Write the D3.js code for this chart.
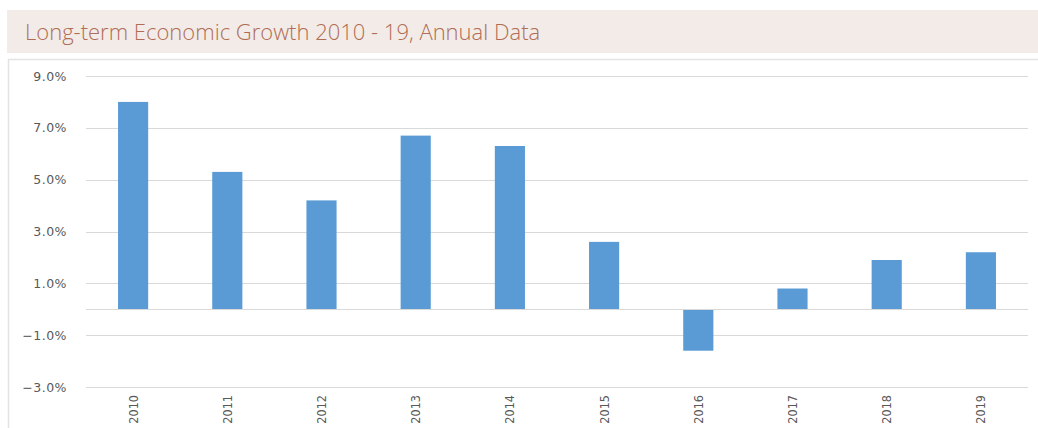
<!DOCTYPE html>
<html>
<head>
<meta charset="utf-8">
<script src="https://cdn.jsdelivr.net/npm/d3@7"></script>
<style>
	body { margin: 0; background: #fff; }
	svg { display: block; }
</style>
</head>
<body>
<script>
// Long-term growth bar chart
const width = 1038;
const height = 428;
const margin = {top: 76, right: 10, bottom: 41, left: 86};

const years = ['2010', '2011', '2012', '2013', '2014', '2015', '2016', '2017', '2018', '2019'];
const growth = [8.0, 5.3, 4.2, 6.7, 6.3, 2.6, -1.6, 0.8, 1.9, 2.2];
const yTicks = [-3, -1, 1, 3, 5, 7, 9];

const title = 'Long-term Economic Growth 2010 - 19, Annual Data';

const svg = d3.select('body')
	.append('svg')
	.attr('width', width)
	.attr('height', height);

// title band
svg.append('rect')
	.attr('x', 7).attr('y', 10)
	.attr('width', width - 7).attr('height', 43)
	.attr('fill', '#f3ebe7');
svg.append('text')
	.attr('x', 25).attr('y', 40)
	.attr('font-family', 'Open Sans')
	.attr('font-weight', 300)
	.attr('font-size', 22)
	.attr('fill', '#b06d55')
	.text(title);

// chart frame
svg.append('path')
	.attr('d', `M8.5,${height} V59.5 H${width}`)
	.attr('fill', 'none')
	.attr('stroke', '#e3e3e3')
	.attr('stroke-width', 1.5);

const x = d3.scaleBand()
	.domain(years)
	.range([margin.left, 1028])
	.paddingInner(0.68)
	.paddingOuter(0.34);

const y = d3.scaleLinear()
	.domain([-3, 9])
	.range([height - margin.bottom, margin.top]);

// gridlines
svg.append('g')
	.selectAll('line')
	.data(yTicks)
	.join('line')
	.attr('x1', margin.left).attr('x2', 1028)
	.attr('y1', d => Math.round(y(d)) + 0.5).attr('y2', d => Math.round(y(d)) + 0.5)
	.attr('stroke', '#d9d9d9');

// y labels
svg.append('g')
	.selectAll('text')
	.data(yTicks)
	.join('text')
	.attr('x', 67)
	.attr('y', d => y(d) + 4.5)
	.attr('text-anchor', 'end')
	.attr('font-family', 'DejaVu Sans')
	.attr('font-size', 12.5)
	.attr('letter-spacing', 0.5)
	.attr('fill', '#595959')
	.text(d => d3.format('.1f')(d) + '%');

// bars
svg.append('g')
	.selectAll('rect')
	.data(growth)
	.join('rect')
	.attr('x', (d, i) => x(years[i]))
	.attr('width', x.bandwidth())
	.attr('y', d => y(Math.max(0, d)))
	.attr('height', d => Math.abs(y(d) - y(0)))
	.attr('fill', '#5b9bd5');

// zero line
svg.append('line')
	.attr('x1', margin.left).attr('x2', 1028)
	.attr('y1', Math.round(y(0)) + 0.5).attr('y2', Math.round(y(0)) + 0.5)
	.attr('stroke', '#d9d9d9');

// x labels
svg.append('g')
	.selectAll('text')
	.data(years)
	.join('text')
	.attr('transform', d => `translate(${x(d) + x.bandwidth() / 2 + 4.5}, 395) rotate(-90)`)
	.attr('text-anchor', 'end')
	.attr('font-family', 'DejaVu Sans Condensed, Liberation Sans, sans-serif')
	.attr('font-stretch', 'condensed')
	.attr('font-size', 12.5)
	.attr('fill', '#595959')
	.text(d => d);
</script>
</body>
</html>
